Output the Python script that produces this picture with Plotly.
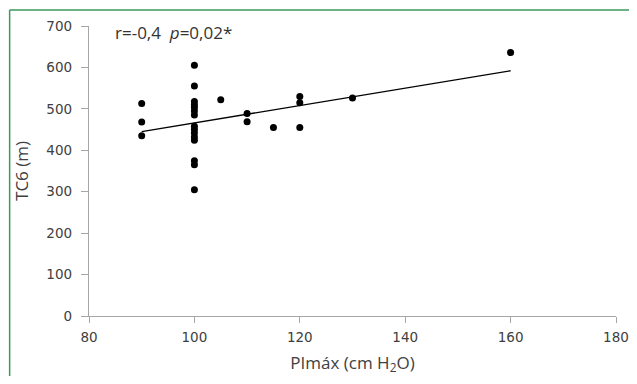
import plotly.graph_objects as go

# Data
pimax = [90, 90, 90,
         100, 100, 100, 100, 100, 100, 100, 100, 100, 100, 100, 100, 100, 100, 100,
         105, 110, 110, 115, 120, 120, 120, 130, 160]
tc6 = [513, 468, 435,
       605, 555, 518, 510, 503, 495, 485, 458, 450, 442, 432, 424, 375, 365, 305,
       522, 489, 469, 455, 530, 515, 455, 526, 636]
trend_x = [90, 160]
trend_y = [445, 592]

x_ticks = [80, 100, 120, 140, 160, 180]
y_ticks = [0, 100, 200, 300, 400, 500, 600, 700]

tick_fam = "DejaVu Sans"
title_fam = "Open Sans"
txt = "#404040"
axcol = "#a6a6a6"
green = "#3a9a5c"

fig = go.Figure()
fig.add_trace(go.Scatter(x=trend_x, y=trend_y, mode="lines",
                         line=dict(color="black", width=1.3), hoverinfo="skip"))
fig.add_trace(go.Scatter(x=pimax, y=tc6, mode="markers",
                         marker=dict(color="black", size=7)))

fig.update_layout(
    width=629, height=368,
    margin=dict(l=81, r=21, t=18, b=60),
    paper_bgcolor="white", plot_bgcolor="white",
    showlegend=False,
    font=dict(family=tick_fam, size=12, color=txt),
    xaxis=dict(range=[80, 180], tickvals=x_ticks, showgrid=False, zeroline=False,
               showline=True, linecolor=axcol, linewidth=1.3, automargin=False,
               ticks="outside", ticklen=6, tickcolor=axcol, tickwidth=1.3,
               ticklabelstandoff=3,
               tickfont=dict(family=tick_fam, size=13.5, color=txt),
               title=dict(text="PImáx (cm H<sub>2</sub>O)",
                          font=dict(family=title_fam, size=17, color=txt), standoff=12)),
    yaxis=dict(range=[0, 700], tickvals=y_ticks, showgrid=False, zeroline=False,
               showline=True, linecolor=axcol, linewidth=1.3, automargin=False,
               ticks="outside", ticklen=7, tickcolor=axcol, tickwidth=1.3,
               ticklabelstandoff=6,
               tickfont=dict(family=tick_fam, size=13.5, color=txt),
               title=dict(text="TC6 (m)",
                          font=dict(family=title_fam, size=17, color=txt), standoff=13)),
    annotations=[dict(xref="paper", yref="paper", x=0.045, y=0.976,
                      xanchor="left", yanchor="middle", showarrow=False,
                      text="r=-0,4  <i>p</i>=0,02*",
                      font=dict(family=title_fam, size=17, color="#333333"))],
    shapes=[
        dict(type="line", xref="paper", yref="paper", x0=-0.1506, x1=1.2, y0=1.055, y1=1.055,
             line=dict(color=green, width=1.5)),
        dict(type="line", xref="paper", yref="paper", x0=-0.1506, x1=-0.1506, y0=1.055, y1=-0.4,
             line=dict(color=green, width=1.5)),
    ],
)

fig.write_html("out.html")
